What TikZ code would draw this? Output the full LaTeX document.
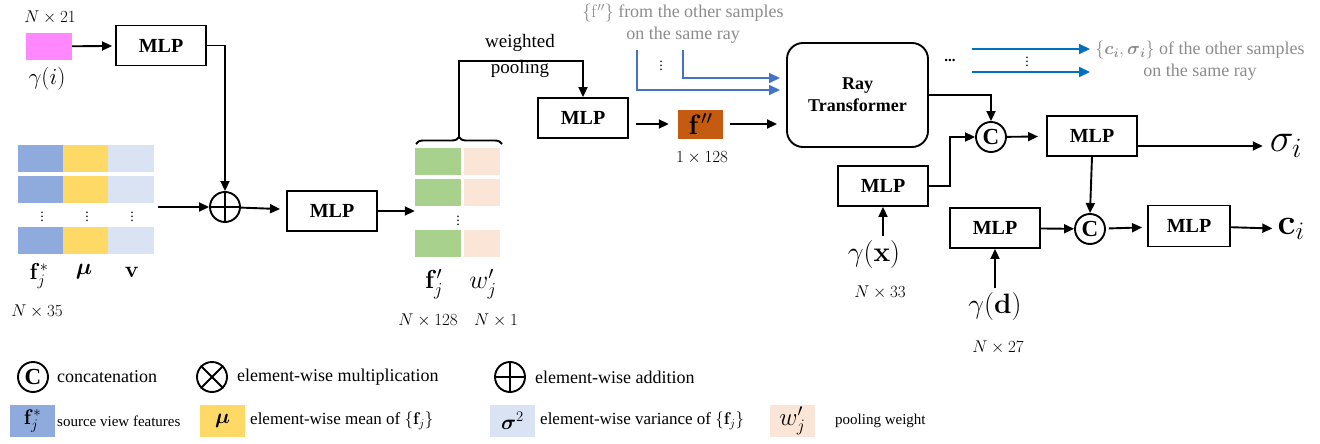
\RequirePackage{fix-cm}
\documentclass[tikz,border=0pt]{standalone}
\usepackage{amsmath}
\usepackage{amssymb}
\usepackage[no-math]{fontspec}
\setmainfont{Liberation Serif}
\usetikzlibrary{arrows.meta,decorations.pathreplacing}

\definecolor{idpink}{RGB}{255,136,255}
\definecolor{featblue}{RGB}{143,170,220}
\definecolor{meanyellow}{RGB}{255,217,102}
\definecolor{varblue}{RGB}{218,227,243}
\definecolor{poolgreen}{RGB}{169,209,142}
\definecolor{poolpeach}{RGB}{251,229,214}
\definecolor{rayorange}{RGB}{197,90,17}
\definecolor{notegray}{RGB}{140,140,140}
\definecolor{inblue}{RGB}{68,114,196}
\definecolor{outblue}{RGB}{0,112,192}

\begin{document}
\begin{tikzpicture}[x=1pt,y=-1pt,
  mlp/.style={draw,line width=1.9pt,minimum width=90pt,minimum height=40pt,inner sep=0pt,font=\fontsize{20}{24}\selectfont\bfseries},
  op/.style={circle,draw,line width=1.9pt,minimum size=30pt,inner sep=0pt,font=\fontsize{23}{23}\selectfont\bfseries},
  arr/.style={line width=1.9pt,-{Triangle[length=10pt,width=9pt]}},
  blarr/.style={line width=2pt,-{Triangle[length=11pt,width=10pt]}},
  dim/.style={font=\fontsize{17}{20}\selectfont},
  sym/.style={font=\fontsize{23}{26}\selectfont},
  vdot/.style={font=\fontsize{14}{14}\selectfont},
  note/.style={text=notegray,font=\fontsize{18}{22}\selectfont,align=center},
  leg/.style={anchor=west,inner sep=0pt,font=\fontsize{18}{20}\selectfont},
  legbox/.style={minimum width=45pt,minimum height=32pt,inner sep=0pt,font=\fontsize{21}{24}\selectfont}]
\useasboundingbox (0,0) rectangle (1320,444);

% sample index branch
\node (dimi) at (50,17) [dim] {$N\times 21$};
\node (gi) at (49,46.5) [fill=idpink,minimum width=46pt,minimum height=27pt,inner sep=0pt] {};
\node (gilab) at (47,79) [sym] {$\gamma(i)$};
\node (mlp1) at (161,45.5) [mlp] {MLP};
\draw[arr,shorten >=3pt] (gi) -- (mlp1);

% source view features
\node (feat) at (86,199.5) [minimum width=136pt,minimum height=109pt,inner sep=0pt] {};
\fill[featblue] (18,145) rectangle (63,172);
\fill[meanyellow] (63,145) rectangle (108,172);
\fill[varblue] (108,145) rectangle (154,172);
\fill[featblue] (18,176) rectangle (63,203);
\fill[meanyellow] (63,176) rectangle (108,203);
\fill[varblue] (108,176) rectangle (154,203);
\fill[featblue] (18,227) rectangle (63,254);
\fill[meanyellow] (63,227) rectangle (108,254);
\fill[varblue] (108,227) rectangle (154,254);
\node (fdots1) at (42,214) [vdot] {$\vdots$};
\node (fdots2) at (87,214) [vdot] {$\vdots$};
\node (fdots3) at (132,214) [vdot] {$\vdots$};
\node (flab) at (39,276) [sym] {$\mathbf{f}_j^*$};
\node (mulab) at (84,272) [sym] {$\boldsymbol{\mu}$};
\node (vlab) at (132,272) [sym] {$\mathbf{v}$};
\node (dimf) at (37,311) [dim] {$N\times 35$};

\node (plus) at (225,207) [op] {};
\draw[line width=1.9pt] (plus.north) -- (plus.south) (plus.west) -- (plus.east);
\draw[arr] (mlp1.east) -| (plus.north);
\draw[arr,shorten <=4pt] (feat.east |- plus) -- (plus);

\node (mlp2) at (332,211) [mlp] {MLP};
\draw[arr,shorten >=6pt] (plus) -- (mlp2);

% per-view features and weights
\node (wfeat) at (458,203) [minimum width=86pt,minimum height=110pt,inner sep=0pt] {};
\fill[poolgreen] (415,148) rectangle (461,175);
\fill[poolpeach] (464,148) rectangle (500,175);
\fill[poolgreen] (415,179) rectangle (461,206);
\fill[poolpeach] (464,179) rectangle (500,206);
\fill[poolgreen] (415,230) rectangle (461,257);
\fill[poolpeach] (464,230) rectangle (500,257);
\node (wdots) at (458,218) [vdot] {$\vdots$};
\draw[arr] (mlp2.east) -- (wfeat.west |- mlp2.east);
\node (fplab) at (434,284) [font=\fontsize{26}{28}\selectfont] {$\mathbf{f}_j'$};
\node (wplab) at (483,284) [font=\fontsize{26}{28}\selectfont] {$w_j'$};
\node (dimfp) at (428,320) [dim] {$N\times 128$};
\node (dimwp) at (496,320) [dim] {$N\times 1$};

% weighted pooling
\draw[line width=1.9pt,decorate,decoration={brace,amplitude=7pt}] (416,144) -- (502,144);
\coordinate (pool) at (459,137);
\node (wp) at (520,56) [align=center,font=\fontsize{19}{26}\selectfont] {weighted\\pooling};
\node (mlp3) at (583,118) [mlp] {MLP};
\draw[arr] (pool) -- ++(0,-76) -| (mlp3.north);

\node (fpp) at (700.5,124) [fill=rayorange,minimum width=45pt,minimum height=29pt,inner sep=0pt,font=\fontsize{28}{30}\selectfont] {$\mathbf{f}''$};
\node (dimfpp) at (702,158) [dim] {$1\times 128$};
\draw[arr,shorten <=7pt,shorten >=9pt] (mlp3.east |- fpp) -- (fpp);

% ray transformer
\node (ray) at (857.5,95) [draw,line width=1.9pt,rounded corners=16pt,minimum width=141pt,minimum height=104pt,align=center,font=\fontsize{18}{22}\selectfont\bfseries] {Ray\\Transformer};
\draw[arr,shorten <=7pt,shorten >=9pt] (fpp) -- (ray.west |- fpp);

\node (ffnote) at (683,24) [note] {$\{\mathrm{f}''\}$ from the other samples\\on the same ray};
\coordinate (ffa) at (637,50);
\coordinate (ffb) at (683,50);
\coordinate (ina) at (780,90);
\coordinate (inb) at (780,78);
\draw[blarr,inblue] (ffa) |- (ina);
\draw[blarr,inblue] (ffb) |- (inb);
\node (indots) at (661,63) [vdot] {$\vdots$};

\node (rdots) at (950,60) [font=\fontsize{15}{15}\selectfont\bfseries] {...};
\coordinate (oa0) at (972,49);
\coordinate (oa1) at (1090,49);
\coordinate (ob0) at (972,72);
\coordinate (ob1) at (1090,72);
\draw[blarr,outblue] (oa0) -- (oa1);
\draw[blarr,outblue] (ob0) -- (ob1);
\node (outdots) at (1027,59) [vdot] {$\vdots$};
\node (cnote) at (1200,61) [note] {$\{\boldsymbol{c}_{\boldsymbol{i}},\boldsymbol{\sigma}_{\boldsymbol{i}}\}$ of the other samples\\on the same ray};

% density head
\node (cat1) at (991,137) [op] {C};
\draw[arr] (ray.east) -| (cat1.north);
\node (xmlp) at (883,186) [mlp] {MLP};
\node (gx) at (874,254) [font=\fontsize{28}{30}\selectfont] {$\gamma(\mathbf{x})$};
\node (dimx) at (880,292) [dim] {$N\times 33$};
\draw[arr] (xmlp.south |- gx.north) -- (xmlp.south);
\draw[arr] (xmlp.east) -- ++(21,0) |- (cat1.west);
\node (mlp5) at (1092,136) [mlp] {MLP};
\draw[arr,shorten >=8pt] (cat1) -- (mlp5);
\node (sig) at (1286,146) [inner sep=1pt,font=\fontsize{40}{42}\selectfont] {$\sigma_i$};
\draw[arr,shorten >=6pt] (mlp5.east |- sig) -- (sig);

% colour head
\node (cat2) at (1090,229) [op] {C};
\draw[arr] (mlp5.south) -- (cat2.north);
\node (dmlp) at (995,228) [mlp] {MLP};
\node (gd) at (995,306) [font=\fontsize{28}{30}\selectfont] {$\gamma(\mathbf{d})$};
\node (dimd) at (998,347) [dim] {$N\times 27$};
\draw[arr] (gd) -- (dmlp);
\draw[arr] (dmlp) -- (cat2);
\node (mlp7) at (1189,226) [mlp,minimum width=82pt,minimum height=41pt] {MLP};
\draw[arr,shorten >=5pt,shorten <=3pt] (cat2) -- (mlp7);
\node (ci) at (1291,229) [inner sep=1pt,font=\fontsize{36}{38}\selectfont] {$\mathbf{c}_i$};
\draw[arr,shorten >=4pt] (mlp7) -- (ci);

% legend
\node (lcat) at (33,377) [op] {C};
\node (lcattxt) at (57,377) [leg] {concatenation};
\node (lmul) at (212,377) [op] {};
\draw[line width=1.9pt] (lmul.north west) -- (lmul.south east) (lmul.north east) -- (lmul.south west);
\node (lmultxt) at (237,377) [leg] {element-wise multiplication};
\node (ladd) at (510,377) [op] {};
\draw[line width=1.9pt] (ladd.north) -- (ladd.south) (ladd.west) -- (ladd.east);
\node (laddtxt) at (535,377) [leg] {element-wise addition};

\node (lf) at (32.5,421) [legbox,fill=featblue] {$\mathbf{f}_j^*$};
\node (lftxt) at (57,421) [leg,font=\fontsize{15}{18}\selectfont] {source view features};
\node (lmu) at (222.5,421) [legbox,fill=meanyellow] {$\boldsymbol{\mu}$};
\node (lmutxt) at (250,421) [leg,font=\fontsize{17}{20}\selectfont] {element-wise mean of $\{\mathbf{f}_j\}$};
\node (lsig) at (512.5,421) [legbox,fill=varblue] {$\boldsymbol{\sigma}^2$};
\node (lsigtxt) at (540,421) [leg,font=\fontsize{17}{20}\selectfont] {element-wise variance of $\{\mathbf{f}_j\}$};
\node (lw) at (792.5,421) [legbox,fill=poolpeach,font=\fontsize{25}{26}\selectfont] {$w_j'$};
\node (lwtxt) at (835,421) [leg,font=\fontsize{15}{18}\selectfont] {pooling weight};
\end{tikzpicture}
\end{document}
